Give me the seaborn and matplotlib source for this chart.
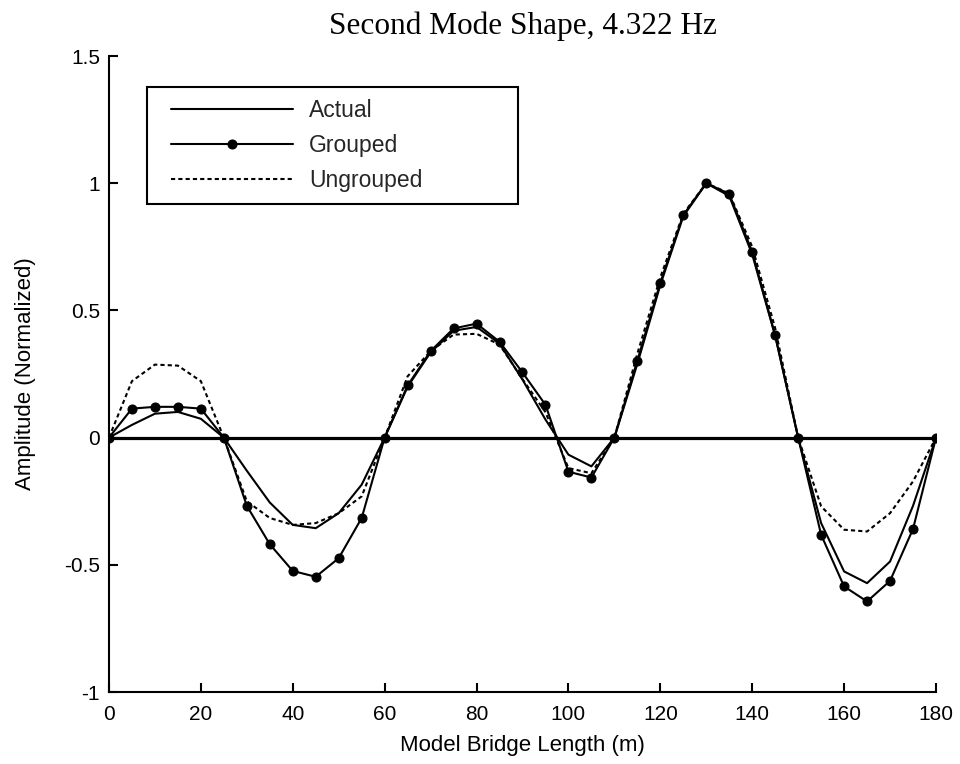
import numpy as np
import pandas as pd
import matplotlib
matplotlib.use("Agg")
import matplotlib.pyplot as plt
import seaborn as sns

# ---- data ----
length_m = [0, 5, 10, 15, 20, 25, 30, 35, 40, 45, 50, 55, 60, 65, 70, 75, 80, 85, 90,
            95, 100, 105, 110, 115, 120, 125, 130, 135, 140, 145, 150, 155, 160, 165,
            170, 175, 180]
actual = [0, 0.05, 0.094, 0.101, 0.074, 0, -0.13, -0.255, -0.343, -0.356, -0.297,
          -0.185, 0, 0.20, 0.335, 0.42, 0.435, 0.37, 0.228, 0.071, -0.067, -0.113, 0,
          0.29, 0.60, 0.87, 1.0, 0.95, 0.72, 0.40, 0, -0.336, -0.526, -0.572, -0.487,
          -0.268, 0]
grouped = [0, 0.114, 0.121, 0.121, 0.114, 0, -0.268, -0.419, -0.524, -0.547, -0.474,
           -0.316, 0, 0.205, 0.340, 0.429, 0.448, 0.377, 0.256, 0.129, -0.134, -0.157,
           0, 0.303, 0.609, 0.875, 1.0, 0.958, 0.730, 0.402, 0, -0.382, -0.585, -0.644,
           -0.563, -0.359, 0]
ungrouped = [0, 0.222, 0.287, 0.283, 0.222, 0, -0.25, -0.316, -0.343, -0.336, -0.297,
             -0.231, 0, 0.241, 0.34, 0.405, 0.408, 0.366, 0.23, 0.10, -0.12, -0.14, 0,
             0.33, 0.63, 0.88, 1.0, 0.96, 0.75, 0.43, 0, -0.27, -0.362, -0.369, -0.297,
             -0.172, 0]
series_names = ["Actual", "Grouped", "Ungrouped"]
x_ticks = [0, 20, 40, 60, 80, 100, 120, 140, 160, 180]
y_ticks = [-1, -0.5, 0, 0.5, 1, 1.5]
y_tick_labels = ["-1", "-0.5", "0", "0.5", "1", "1.5"]

df = pd.DataFrame({"x": length_m, series_names[0]: actual,
                   series_names[1]: grouped, series_names[2]: ungrouped})

sns.set_theme(style="ticks")
plt.rcParams["font.family"] = ["Liberation Sans", "DejaVu Sans"]
plt.rcParams["axes.unicode_minus"] = False

fig = plt.figure(figsize=(9.6, 7.64), dpi=100)
ax = fig.add_axes([0.1135, 0.0942, 0.8615, 0.8325])

lw = 1.5
ax.axhline(0, color="black", lw=2.3, zorder=1)
sns.lineplot(data=df, x="x", y=series_names[0], ax=ax, color="black", lw=lw,
             estimator=None, sort=False, label=series_names[0], zorder=3)
sns.lineplot(data=df, x="x", y=series_names[1], ax=ax, color="black", lw=lw,
             marker="o", markersize=6.5, markeredgecolor="black",
             estimator=None, sort=False, label=series_names[1], zorder=4)
sns.lineplot(data=df, x="x", y=series_names[2], ax=ax, color="black", lw=lw,
             linestyle=(0, (2, 1.5)), estimator=None, sort=False,
             label=series_names[2], zorder=2)

ax.set_xlim(0, 180)
ax.set_ylim(-1, 1.5)
ax.set_xticks(x_ticks)
ax.set_yticks(y_ticks)
ax.set_yticklabels(y_tick_labels)
ax.tick_params(direction="in", length=6.5, width=1.5, labelsize=15, color="black",
               labelcolor="black")
ax.tick_params(axis="x", pad=9.5)
ax.tick_params(axis="y", pad=6.5)
for s in ["top", "right"]:
    ax.spines[s].set_visible(False)
for s in ["left", "bottom"]:
    ax.spines[s].set_linewidth(1.5)
    ax.spines[s].set_color("black")

ax.set_xlabel("Model Bridge Length (m)", fontsize=16, color="black", labelpad=8)
ax.set_ylabel("Amplitude (Normalized)", fontsize=16, color="black", labelpad=20)
ax.set_title("Second Mode Shape, 4.322 Hz", fontsize=22.5, color="black",
             family=["Liberation Serif", "DejaVu Serif"], pad=16)

leg = ax.legend(loc="upper left", bbox_to_anchor=(0.046, 0.951, 0.449, 0.0),
                mode="expand", fontsize=16.5, handlelength=5.85, handletextpad=0.7,
                labelspacing=0.525, borderpad=0.51, fancybox=False, frameon=True,
                borderaxespad=0)
leg.get_frame().set_edgecolor("black")
leg.get_frame().set_linewidth(1.5)
leg.get_frame().set_alpha(1)
# indent the legend sample lines a little, as in the reference
shift_pt = 9.1
for ln in leg.get_lines():
    xd = np.asarray(ln.get_xdata(), dtype=float)
    ln.set_xdata(np.linspace(xd[0] + shift_pt, xd[-1], len(xd)))

fig.savefig("out.png", dpi=100, facecolor="white")
